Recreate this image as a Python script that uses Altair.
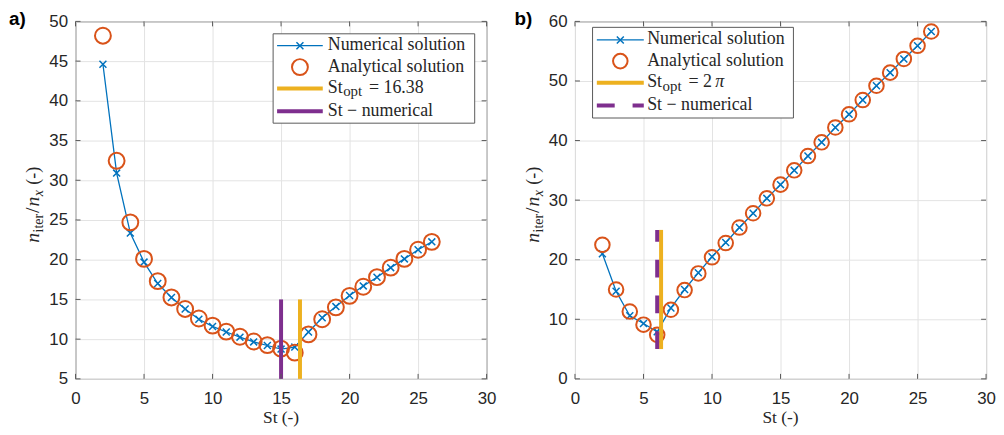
import altair as alt
import pandas as pd

# ---------------- data ----------------
st = list(range(2, 27))
num_a = [44.6, 30.9, 23.35, 19.7, 17.0, 15.25, 13.8, 12.5, 11.6, 10.9, 10.25, 9.65, 9.2,
         8.75, 9.0, 10.9, 12.7, 14.1, 15.5, 16.7, 17.8, 19.0, 20.1, 21.25, 22.25]
ana_a = [48.2, 32.45, 24.7, 20.1, 17.3, 15.25, 13.8, 12.6, 11.7, 10.95, 10.3, 9.7, 9.25,
         8.8, 8.3, 10.6, 12.5, 14.0, 15.45, 16.6, 17.8, 19.0, 20.1, 21.25, 22.25]
num_b = [21.0, 14.7, 10.6, 9.3, 7.9, 11.9, 15.0, 17.8, 20.5, 22.9, 25.4, 27.8, 30.3,
         32.6, 35.0, 37.4, 39.7, 42.2, 44.4, 46.8, 49.2, 51.4, 53.7, 55.9, 58.3]
ana_b = [22.5, 15.0, 11.3, 9.1, 7.4, 11.6, 14.9, 17.7, 20.4, 22.8, 25.4, 27.8, 30.3,
         32.6, 35.0, 37.4, 39.7, 42.2, 44.4, 46.8, 49.2, 51.4, 53.7, 55.9, 58.3]
x_ticks = [0, 5, 10, 15, 20, 25, 30]
y_ticks_a = [5, 10, 15, 20, 25, 30, 35, 40, 45, 50]
y_ticks_b = [0, 10, 20, 30, 40, 50, 60]
st_opt_a, st_num_a, vspan_a = 16.38, 15.0, [5, 15]
st_opt_b, st_num_b, vspan_b = 6.2832, 6.0, [5, 25]
legend_labels = ["Numerical solution", "Analytical solution", "St", "St \u2212 numerical"]

# ---------------- style ----------------
BLUE, ORANGE, YELLOW, PURPLE = "#0072BD", "#D95319", "#EDB120", "#7E2F8E"
AX = "#262626"
FRAME = "#5a5a5a"
SERIF = "Liberation Serif"
SANS = "Liberation Sans"
W, H = 414, 360
XPATH = "M-1,-1L1,1M1,-1L-1,1"


def txt(s, x, y, size, font=SERIF, style="normal", weight="normal", align="left",
        baseline="alphabetic", angle=None, color=AX):
    kw = dict(font=font, fontSize=size, fontStyle=style, fontWeight=weight,
              align=align, baseline=baseline, color=color)
    if angle is not None:
        kw["angle"] = angle
    return alt.Chart(pd.DataFrame({"s": [s]})).mark_text(**kw).encode(
        text="s:N", x=alt.value(x), y=alt.value(y))


def seg(x0, x1, y0, y1, color, width, dash=None):
    kw = dict(color=color, strokeWidth=width)
    if dash:
        kw["strokeDash"] = dash
    return alt.Chart(pd.DataFrame({"a": [0]})).mark_rule(**kw).encode(
        x=alt.value(x0), x2=alt.value(x1), y=alt.value(y0), y2=alt.value(y1))


def sym(x, y, shape, size, color, width):
    return alt.Chart(pd.DataFrame({"a": [0]})).mark_point(
        shape=shape, size=size, color=color, strokeWidth=width, filled=False, opacity=1
    ).encode(x=alt.value(x), y=alt.value(y))


def panel(num, ana, yticks, ydom, st_opt, st_num, vspan, dashed, label, lg, opt_text, csize):
    df = pd.DataFrame({"St": st, "num": num, "ana": ana})
    xs = alt.Scale(domain=[0, 30], nice=False, zero=False)
    ys = alt.Scale(domain=ydom, nice=False, zero=False)
    xax = alt.Axis(values=x_ticks, title=None, labelPadding=12)
    yax = alt.Axis(values=yticks, title=None, labelPadding=8)
    X = lambda f: alt.X(f, scale=xs, axis=xax)
    Y = lambda f: alt.Y(f, scale=ys, axis=yax)

    line = alt.Chart(df).mark_line(color=BLUE, strokeWidth=1.3).encode(x=X("St:Q"), y=Y("num:Q"))
    xm = alt.Chart(df).mark_point(shape=XPATH, size=49, color=BLUE, strokeWidth=1.5,
                                  filled=False, opacity=1).encode(x=X("St:Q"), y=Y("num:Q"))
    circ = alt.Chart(df).mark_point(shape="circle", size=csize, color=ORANGE, strokeWidth=2,
                                    filled=False, opacity=1).encode(x=X("St:Q"), y=Y("ana:Q"))
    vdf = pd.DataFrame({"opt": [st_opt], "numx": [st_num], "lo": [vspan[0]], "hi": [vspan[1]]})
    vopt = alt.Chart(vdf).mark_rule(color=YELLOW, strokeWidth=4).encode(
        x=X("opt:Q"), y=Y("lo:Q"), y2="hi:Q")
    pk = dict(color=PURPLE, strokeWidth=4)
    if dashed:
        pk["strokeDash"] = [18, 18]
    vnum = alt.Chart(vdf).mark_rule(**pk).encode(x=X("numx:Q"), y=Y("lo:Q"), y2="hi:Q")

    # inward ticks (MATLAB box style)
    xt = pd.DataFrame({"t": x_ticks})
    yt = pd.DataFrame({"t": yticks})
    tk = dict(color=FRAME, strokeWidth=1)
    t_b = alt.Chart(xt).mark_rule(**tk).encode(x=X("t:Q"), y=alt.value(H), y2=alt.value(H - 5))
    t_t = alt.Chart(xt).mark_rule(**tk).encode(x=X("t:Q"), y=alt.value(0), y2=alt.value(5))
    t_l = alt.Chart(yt).mark_rule(**tk).encode(y=Y("t:Q"), x=alt.value(0), x2=alt.value(5))
    t_r = alt.Chart(yt).mark_rule(**tk).encode(y=Y("t:Q"), x=alt.value(W), x2=alt.value(W - 5))

    # legend
    bx0, bx1, by0, by1 = lg["box"]
    sx0, sx1 = lg["sample"]
    sc = (sx0 + sx1) / 2
    tx = lg["tx"]
    rows = lg["rows"]
    ly = [r - 4.5 for r in rows]
    fs = 18
    optx = tx + 15.5
    leg = [
        alt.Chart(pd.DataFrame({"a": [0]})).mark_rect(fill="white", stroke=FRAME, strokeWidth=1).encode(
            x=alt.value(bx0), x2=alt.value(bx1), y=alt.value(by0), y2=alt.value(by1)),
        seg(sx0, sx1, ly[0], ly[0], BLUE, 1.3),
        sym(sc, ly[0], XPATH, 49, BLUE, 1.5),
        sym(sc, ly[1], "circle", csize, ORANGE, 2),
        seg(sx0, sx1, ly[2], ly[2], YELLOW, 4),
        seg(sx0, sx1, ly[3], ly[3], PURPLE, 4, [18, 18] if dashed else None),
        txt(legend_labels[0], tx, rows[0], fs),
        txt(legend_labels[1], tx, rows[1], fs),
        txt(legend_labels[2], tx, rows[2], fs),
        txt("opt", optx, rows[2] + 3.5, 15),
        txt(legend_labels[3], tx, rows[3], fs),
    ]
    for s, dx, st_ in opt_text:
        leg.append(txt(s, optx + dx, rows[2], fs, style=st_))

    # axis titles
    titles = [txt("St (-)", W / 2, H + 44.5, 17.5, align="center")]
    # y title: n_iter / n_x (-), rotated
    pieces = [("n", 20, "italic", 0, 10.5), ("iter", 14, "normal", 4, 19.5),
              ("/", 20, "normal", 0, 6.5), ("n", 20, "italic", 0, 10.5),
              ("x", 14, "italic", 4, 11.5), ("(-)", 18, "normal", 0, 0)]
    ypos = 223
    for s, size, style, shift, wdt in pieces:
        titles.append(txt(s, -36.5 + shift, ypos, size, style=style, angle=270))
        ypos -= wdt
    titles.append(txt(label, lg["lab_x"], -11, 19, font=SANS, weight="bold", baseline="top", color="#000000"))

    return alt.layer(line, xm, circ, vopt, vnum, t_b, t_t, t_l, t_r, *leg, *titles).properties(
        width=W, height=H)


left = panel(num_a, ana_a, y_ticks_a, [5, 50], st_opt_a, st_num_a, vspan_a, False, "a)",
             dict(box=(199, 402, 12.5, 102.5), sample=(203, 249), tx=254,
                  rows=[29, 50.5, 72, 95], lab_x=-67),
             [("= 16.38", 26, "normal")], 256)
right = panel(num_b, ana_b, y_ticks_b, [0, 60], st_opt_b, st_num_b, vspan_b, True, "b)",
              dict(box=(17.7, 220, 6, 97.3), sample=(22, 69.3), tx=72.7,
                   rows=[23.2, 44.5, 66.3, 89.3], lab_x=-61),
              [("= 2", 26, "normal"), ("\u03c0", 53, "italic")], 215)

chart = alt.hconcat(left, right, spacing=89, bounds="flush", padding=0).configure_view(
    stroke=FRAME, strokeWidth=1
).configure_axis(
    domain=False, ticks=False, tickSize=0, grid=True, gridColor="#e3e3e3", gridWidth=1,
    labelFont=SANS, labelFontSize=17, labelColor=AX, labelFlush=False, labelOverlap=False
)

chart.save("out.html", embed_options={"renderer": "svg", "actions": False})
